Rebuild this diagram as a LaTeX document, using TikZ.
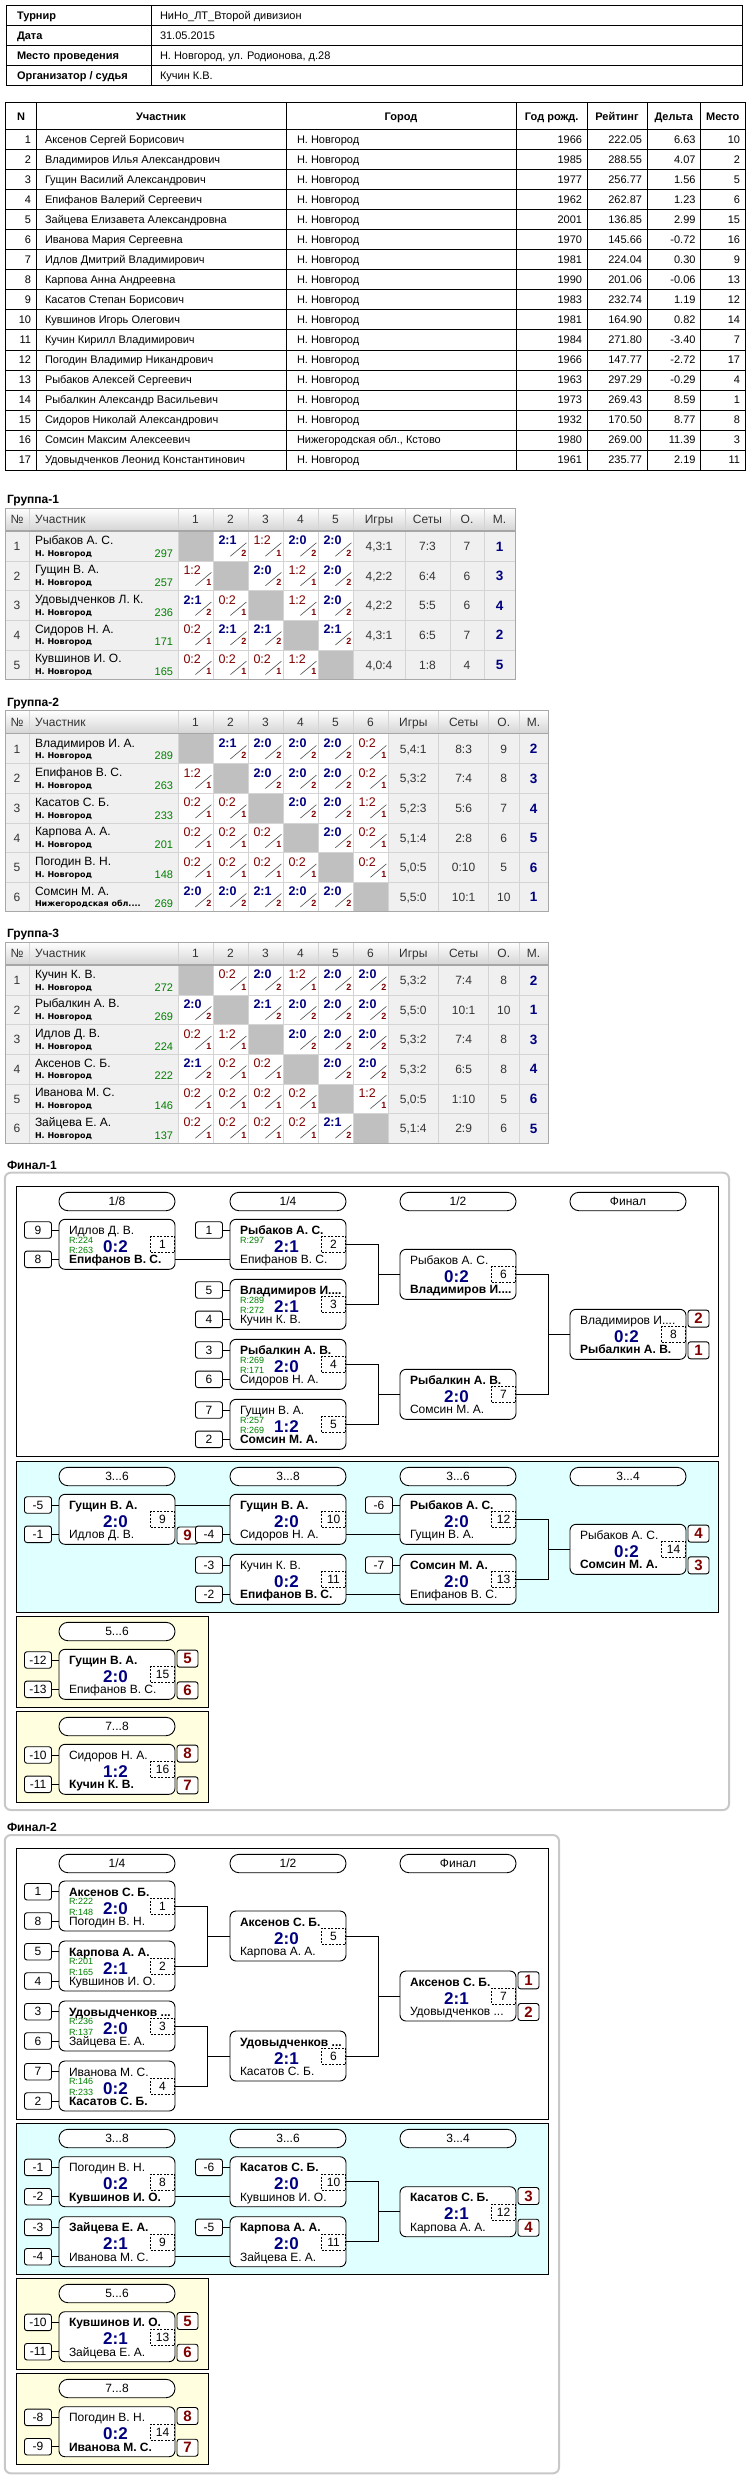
\documentclass[tikz,border=0pt]{standalone}
\usepackage{fontspec}
\setmainfont{Liberation Sans}
\newfontfamily\dvb{DejaVu Sans}
\usetikzlibrary{calc}
\definecolor{navy}{HTML}{000080}
\definecolor{dred}{HTML}{800000}
\definecolor{rgrn}{HTML}{008000}
\definecolor{cyanbg}{HTML}{E0FFFF}
\definecolor{yelbg}{HTML}{FFFFE0}
\definecolor{cellbg}{HTML}{F0F0F0}
\definecolor{diagbg}{HTML}{C0C0C0}
\definecolor{gridc}{HTML}{D4D4D4}
\definecolor{txtg}{HTML}{333333}
\definecolor{hdrbot}{HTML}{D6D6D6}
\definecolor{panelb}{HTML}{C8C8C8}
\definecolor{gborder}{HTML}{A8A8A8}
\newcommand\fs[1]{\fontsize{#1}{#1}\selectfont}
\tikzset{
  tx/.style={inner sep=0pt, outer sep=0pt, text depth=0pt, text height=0.716*#1pt, font=\fs{#1}},
  txb/.style={inner sep=0pt, outer sep=0pt, text depth=0pt, text height=0.716*#1pt, font=\fs{#1}\bfseries},
  city/.style={inner sep=0pt, outer sep=0pt, text depth=0pt, text height=5.8pt, font=\dvb\fs{8}\bfseries},
  gl/.style={draw=gridc, line width=0.8pt},
  slash/.style={draw=black!70, line width=0.6pt},
  mbox/.style={draw, line width=0.9pt, rounded corners=6pt, minimum width=116pt, minimum height=50pt, inner sep=0pt, fill=white},
  pill/.style={draw, line width=0.9pt, rounded corners=9pt, minimum width=116pt, minimum height=18.4pt, inner sep=0pt, fill=white, font=\fs{12}},
  seedb/.style={draw, line width=0.9pt, rounded corners=2.5pt, minimum width=27pt, minimum height=16.5pt, inner sep=0pt, fill=white, font=\fs{12}},
  placeb/.style={draw, line width=0.9pt, rounded corners=2.5pt, minimum width=21pt, minimum height=17pt, inner sep=0pt, fill=white, font=\fs{15}\bfseries, text=dred},
  numb/.style={draw, line width=0.8pt, dash pattern=on 2pt off 1.5pt, minimum width=24pt, minimum height=16pt, inner sep=0pt, font=\fs{12}},
  conn/.style={line width=0.9pt},
  sect/.style={draw, line width=1pt},
  tline/.style={line width=1pt},
}
% ---------- main table row
\newcommand\mrow[7]{%
  \pgfmathsetmacro\yy{140+20*(#1-1)}%
  \node[tx=11,anchor=east] (r#1n) at (31,\yy) {#1};
  \node[tx=11,anchor=west] (r#1a) at (45,\yy) {#2};
  \node[tx=11,anchor=west] (r#1c) at (297,\yy) {#3};
  \node[tx=11,anchor=east] (r#1y) at (582,\yy) {#4};
  \node[tx=11,anchor=east] (r#1r) at (642,\yy) {#5};
  \node[tx=11,anchor=east] (r#1d) at (695.5,\yy) {#6};
  \node[tx=11,anchor=east] (r#1p) at (740,\yy) {#7};
}
% ---------- group tables
\newcount\cc
\newcommand\cellpos{\global\advance\cc by 1\relax\pgfmathsetmacro\cl{178+35*(\the\cc-1)}}
\newcommand\XX{\cellpos\fill[diagbg] (\cl,\ry) rectangle ++(35,\rH);}
\newcommand\gsc[3]{%
  \fill[white] (\cl,\ry) rectangle ++(35,\rH);
  \node[#1,anchor=west] (\gid r\ri c\the\cc) at (\cl+5.5,\ry+9) {#2};
  \draw[slash] (\cl+17.4,\ry+24.7) -- (\cl+33.4,\ry+11.3);
  \node[txb=9,text=dred,anchor=east] (\gid r\ri c\the\cc s) at (\cl+33.4,\ry+21.3) {#3};}
\newcommand\WW[1]{\cellpos\gsc{txb=12.5,text=navy}{#1}{2}}
\newcommand\LL[1]{\cellpos\gsc{tx=12.5,text=dred}{#1}{1}}
\newcommand\gframe[9]{%
  \def\gid{#1}\def\ng{#4}\pgfmathsetmacro\cI{178+35*#4}\def\cS{#5}\def\cO{#6}\def\cM{#7}\def\cE{#8}\def\nr{#9}%
  \pgfmathsetmacro\hT{#3+9}\pgfmathsetmacro\rT{#3+32.5}\def\rH{29.6}%
  \pgfmathsetmacro\rB{\rT+\rH*#9}%
  \node[txb=12,anchor=west] (#1title) at (7,#3) {#2};
  \shade[top color=white,bottom color=hdrbot] (5,\hT) rectangle (\cE,\hT+22);
  \fill[cellbg] (5,\rT) rectangle (\cE,\rB);
  \node[tx=12,text=txtg] (#1hn) at (17,\hT+11) {№};
  \node[tx=12,text=txtg,anchor=west] (#1hu) at (35,\hT+11) {Участник};
  \foreach \k in {1,...,#4} {\node[tx=12,text=txtg] (#1h\k) at (160.5+35*\k,\hT+11) {\k};}
  \node[tx=12,text=txtg] (#1hg) at ({(\cI+\cS)/2},\hT+11) {Игры};
  \node[tx=12,text=txtg] (#1hs) at ({(\cS+\cO)/2},\hT+11) {Сеты};
  \node[tx=12,text=txtg] (#1ho) at ({(\cO+\cM)/2},\hT+11) {О.};
  \node[tx=12,text=txtg] (#1hm) at ({(\cM+\cE)/2},\hT+11) {М.};
}
\newcommand\grow[9]{%
  \pgfmathsetmacro\ry{\rT+\rH*(#1-1)}%
  \def\ri{#1}\global\cc=0\relax
  #5%
  \node[tx=12,text=txtg] (\gid r#1n) at (17,\ry+\rH/2) {#1};
  \node[tx=12,anchor=west] (\gid r#1a) at (35,\ry+8.5) {#2};
  \node[city,anchor=west] (\gid r#1b) at (35,\ry+21.7) {#3};
  \node[tx=11,text=rgrn,anchor=east] (\gid r#1c) at (173,\ry+21.7) {#4};
  \node[tx=12,text=txtg] (\gid r#1g) at ({(\cI+\cS)/2},\ry+\rH/2) {#6};
  \node[tx=12,text=txtg] (\gid r#1t) at ({(\cS+\cO)/2},\ry+\rH/2) {#7};
  \node[tx=12,text=txtg] (\gid r#1o) at ({(\cO+\cM)/2},\ry+\rH/2) {#8};
  \node[txb=13.5,text=navy] (\gid r#1m) at ({(\cM+\cE)/2},\ry+\rH/2) {#9};
}
\newcommand\ggrid{%
  \foreach \xx in {29,178,\cS,\cO,\cM} {\draw[gl] (\xx,\hT) -- (\xx,\rB);}
  \foreach \k in {1,...,\ng} {\draw[gl] ({178+35*\k},\hT) -- ({178+35*\k},\rB);}
  \pgfmathtruncatemacro\nrm{\nr-1}%
  \foreach \k in {1,...,\nrm} {\draw[gl] (5,\rT+\rH*\k) -- (\cE,\rT+\rH*\k);}
  \draw[draw=black!35,line width=1.5pt] (5,\hT+22.8) -- (\cE,\hT+22.8);
  \draw[draw=gborder,line width=0.8pt] (5,\hT) rectangle (\cE,\rB);
}
% ---------- brackets
\newcommand\match[7]{%
  \node[mbox] (#1) at (#2+58,#3+25) {};
  \node[tx=12,anchor=west] (#1t) at (#2+10,#3+10.7) {#4};
  \node[tx=12,anchor=west] (#1b) at (#2+10,#3+40) {#5};
  \node[txb=17,text=navy] (#1s) at (#2+56.5,#3+27) {#6};
  \node[numb] (#1n) at (#2+103.5,#3+25.3) {#7};
  \coordinate (#1tl) at (#2,#3+10.7);
  \coordinate (#1bl) at (#2,#3+40);
  \coordinate (#1tr) at (#2+116,#3+10.7);
  \coordinate (#1br) at (#2+116,#3+40);
}
\newcommand\rat[5]{%
  \node[tx=9,text=rgrn,anchor=west] (#1ra) at (#2+10,#3+20.7) {#4};
  \node[tx=9,text=rgrn,anchor=west] (#1rb) at (#2+10,#3+31.4) {#5};}
\newcommand\rata[4]{%
  \node[tx=9,text=rgrn,anchor=west] (#1ra) at (#2+10,#3+20.7) {#4};}
\newcommand\seed[3]{\node[seedb] (#1) at ($(#2)+(-21,0)$) {#3}; \draw[conn] (#1) -- (#2);}
\newcommand\place[4]{\node[placeb] (#1) at (#2,#3) {#4};}
\newcommand\pill[4]{\node[pill] (#1) at (#2+58,#3+9.2) {#4};}

\begin{document}
\begin{tikzpicture}[x=1pt,y=-1pt]
\fill[white] (0,0) rectangle (750,2480);
\useasboundingbox (0,0) rectangle (750,2480);

% ===== header table
\draw[tline] (6,6) rectangle (742,86);
\foreach \yy in {26,46,66} {\draw[tline] (6,\yy) -- (742,\yy);}
\draw[tline] (151,6) -- (151,86);
\node[txb=11,anchor=west] (h1a) at (17,16) {Турнир};
\node[tx=11,anchor=west] (h1b) at (160,16) {НиНо\_ЛТ\_Второй дивизион};
\node[txb=11,anchor=west] (h2a) at (17,36) {Дата};
\node[tx=11,anchor=west] (h2b) at (160,36) {31.05.2015};
\node[txb=11,anchor=west] (h3a) at (17,56) {Место проведения};
\node[tx=11,anchor=west] (h3b) at (160,56) {Н. Новгород, ул. Родионова, д.28};
\node[txb=11,anchor=west] (h4a) at (17,76) {Организатор / судья};
\node[tx=11,anchor=west] (h4b) at (160,76) {Кучин К.В.};

% ===== main table
\draw[tline] (5.7,103) rectangle (745,470);
\foreach \xx in {36,286,516.5,587,647,700.5} {\draw[tline] (\xx,103) -- (\xx,470);}
\foreach \k in {0,...,16} {\draw[tline] (5.7,130+20*\k) -- (745,130+20*\k);}
\node[txb=11] (th1) at (21,116.5) {N};
\node[txb=11] (th2) at (161,116.5) {Участник};
\node[txb=11] (th3) at (401,116.5) {Город};
\node[txb=11] (th4) at (551.7,116.5) {Год рожд.};
\node[txb=11] (th5) at (617,116.5) {Рейтинг};
\node[txb=11] (th6) at (673.7,116.5) {Дельта};
\node[txb=11] (th7) at (722.7,116.5) {Место};
\mrow{1}{Аксенов Сергей Борисович}{Н. Новгород}{1966}{222.05}{6.63}{10}
\mrow{2}{Владимиров Илья Александрович}{Н. Новгород}{1985}{288.55}{4.07}{2}
\mrow{3}{Гущин Василий Александрович}{Н. Новгород}{1977}{256.77}{1.56}{5}
\mrow{4}{Епифанов Валерий Сергеевич}{Н. Новгород}{1962}{262.87}{1.23}{6}
\mrow{5}{Зайцева Елизавета Александровна}{Н. Новгород}{2001}{136.85}{2.99}{15}
\mrow{6}{Иванова Мария Сергеевна}{Н. Новгород}{1970}{145.66}{-0.72}{16}
\mrow{7}{Идлов Дмитрий Владимирович}{Н. Новгород}{1981}{224.04}{0.30}{9}
\mrow{8}{Карпова Анна Андреевна}{Н. Новгород}{1990}{201.06}{-0.06}{13}
\mrow{9}{Касатов Степан Борисович}{Н. Новгород}{1983}{232.74}{1.19}{12}
\mrow{10}{Кувшинов Игорь Олегович}{Н. Новгород}{1981}{164.90}{0.82}{14}
\mrow{11}{Кучин Кирилл Владимирович}{Н. Новгород}{1984}{271.80}{-3.40}{7}
\mrow{12}{Погодин Владимир Никандрович}{Н. Новгород}{1966}{147.77}{-2.72}{17}
\mrow{13}{Рыбаков Алексей Сергеевич}{Н. Новгород}{1963}{297.29}{-0.29}{4}
\mrow{14}{Рыбалкин Александр Васильевич}{Н. Новгород}{1973}{269.43}{8.59}{1}
\mrow{15}{Сидоров Николай Александрович}{Н. Новгород}{1932}{170.50}{8.77}{8}
\mrow{16}{Сомсин Максим Алексеевич}{Нижегородская обл., Кстово}{1980}{269.00}{11.39}{3}
\mrow{17}{Удовыдченков Леонид Константинович}{Н. Новгород}{1961}{235.77}{2.19}{11}

% ===== Group 1
\gframe{ga}{Группа-1}{499}{5}{405}{450}{484}{515}{5}
\grow{1}{Рыбаков А. С.}{Н. Новгород}{297}{\XX\WW{2:1}\LL{1:2}\WW{2:0}\WW{2:0}}{4,3:1}{7:3}{7}{1}
\grow{2}{Гущин В. А.}{Н. Новгород}{257}{\LL{1:2}\XX\WW{2:0}\LL{1:2}\WW{2:0}}{4,2:2}{6:4}{6}{3}
\grow{3}{Удовыдченков Л. К.}{Н. Новгород}{236}{\WW{2:1}\LL{0:2}\XX\LL{1:2}\WW{2:0}}{4,2:2}{5:5}{6}{4}
\grow{4}{Сидоров Н. А.}{Н. Новгород}{171}{\LL{0:2}\WW{2:1}\WW{2:1}\XX\WW{2:1}}{4,3:1}{6:5}{7}{2}
\grow{5}{Кувшинов И. О.}{Н. Новгород}{165}{\LL{0:2}\LL{0:2}\LL{0:2}\LL{1:2}\XX}{4,0:4}{1:8}{4}{5}
\ggrid

% ===== Group 2
\gframe{gb}{Группа-2}{701.7}{6}{438.6}{488.6}{519}{548}{6}
\grow{1}{Владимиров И. А.}{Н. Новгород}{289}{\XX\WW{2:1}\WW{2:0}\WW{2:0}\WW{2:0}\LL{0:2}}{5,4:1}{8:3}{9}{2}
\grow{2}{Епифанов В. С.}{Н. Новгород}{263}{\LL{1:2}\XX\WW{2:0}\WW{2:0}\WW{2:0}\LL{0:2}}{5,3:2}{7:4}{8}{3}
\grow{3}{Касатов С. Б.}{Н. Новгород}{233}{\LL{0:2}\LL{0:2}\XX\WW{2:0}\WW{2:0}\LL{1:2}}{5,2:3}{5:6}{7}{4}
\grow{4}{Карпова А. А.}{Н. Новгород}{201}{\LL{0:2}\LL{0:2}\LL{0:2}\XX\WW{2:0}\LL{0:2}}{5,1:4}{2:8}{6}{5}
\grow{5}{Погодин В. Н.}{Н. Новгород}{148}{\LL{0:2}\LL{0:2}\LL{0:2}\LL{0:2}\XX\LL{0:2}}{5,0:5}{0:10}{5}{6}
\grow{6}{Сомсин М. А.}{Нижегородская обл....}{269}{\WW{2:0}\WW{2:0}\WW{2:1}\WW{2:0}\WW{2:0}\XX}{5,5:0}{10:1}{10}{1}
\ggrid

% ===== Group 3
\gframe{gc}{Группа-3}{933}{6}{438.6}{488.6}{519}{548}{6}
\grow{1}{Кучин К. В.}{Н. Новгород}{272}{\XX\LL{0:2}\WW{2:0}\LL{1:2}\WW{2:0}\WW{2:0}}{5,3:2}{7:4}{8}{2}
\grow{2}{Рыбалкин А. В.}{Н. Новгород}{269}{\WW{2:0}\XX\WW{2:1}\WW{2:0}\WW{2:0}\WW{2:0}}{5,5:0}{10:1}{10}{1}
\grow{3}{Идлов Д. В.}{Н. Новгород}{224}{\LL{0:2}\LL{1:2}\XX\WW{2:0}\WW{2:0}\WW{2:0}}{5,3:2}{7:4}{8}{3}
\grow{4}{Аксенов С. Б.}{Н. Новгород}{222}{\WW{2:1}\LL{0:2}\LL{0:2}\XX\WW{2:0}\WW{2:0}}{5,3:2}{6:5}{8}{4}
\grow{5}{Иванова М. С.}{Н. Новгород}{146}{\LL{0:2}\LL{0:2}\LL{0:2}\LL{0:2}\XX\LL{1:2}}{5,0:5}{1:10}{5}{6}
\grow{6}{Зайцева Е. А.}{Н. Новгород}{137}{\LL{0:2}\LL{0:2}\LL{0:2}\LL{0:2}\WW{2:1}\XX}{5,1:4}{2:9}{6}{5}
\ggrid

% ===== Final-1
\node[txb=12,anchor=west] (f1title) at (7,1165) {Финал-1};
\draw[panelb,line width=2pt,rounded corners=6pt,fill=white] (4.8,1172.7) rectangle (729,1810);
\draw[sect,fill=white] (16.3,1186.7) rectangle (718.7,1456.7);
\draw[sect,fill=cyanbg] (16.3,1461.7) rectangle (718.7,1612.3);
\draw[sect,fill=yelbg] (16.3,1616) rectangle (208,1707.3);
\draw[sect,fill=yelbg] (16.3,1711) rectangle (208,1802.3);
\pill{aP1}{59}{1192.3}{1/8}
\pill{aP2}{230}{1192.3}{1/4}
\pill{aP3}{400}{1192.3}{1/2}
\pill{aP4}{570}{1192.3}{Финал}
\match{a1}{59}{1219.3}{Идлов Д. В.}{\textbf{Епифанов В. С.}}{0:2}{1}
\rat{a1}{59}{1219.3}{R:224}{R:263}
\match{a2}{230}{1219.3}{\textbf{Рыбаков А. С.}}{Епифанов В. С.}{2:1}{2}
\rata{a2}{230}{1219.3}{R:297}
\match{a3}{230}{1279.3}{\textbf{Владимиров И....}}{Кучин К. В.}{2:1}{3}
\rat{a3}{230}{1279.3}{R:289}{R:272}
\match{a4}{230}{1339.3}{\textbf{Рыбалкин А. В.}}{Сидоров Н. А.}{2:0}{4}
\rat{a4}{230}{1339.3}{R:269}{R:171}
\match{a5}{230}{1399.3}{Гущин В. А.}{\textbf{Сомсин М. А.}}{1:2}{5}
\rat{a5}{230}{1399.3}{R:257}{R:269}
\match{a6}{400}{1249.3}{Рыбаков А. С.}{\textbf{Владимиров И....}}{0:2}{6}
\match{a7}{400}{1369.3}{\textbf{Рыбалкин А. В.}}{Сомсин М. А.}{2:0}{7}
\match{a8}{570}{1309.3}{Владимиров И....}{\textbf{Рыбалкин А. В.}}{0:2}{8}
\seed{a1sa}{a1tl}{9}\seed{a1sb}{a1bl}{8}
\seed{a2sa}{a2tl}{1}
\seed{a3sa}{a3tl}{5}\seed{a3sb}{a3bl}{4}
\seed{a4sa}{a4tl}{3}\seed{a4sb}{a4bl}{6}
\seed{a5sa}{a5tl}{7}\seed{a5sb}{a5bl}{2}
\draw[conn] (a1br) -- (a2bl);
\draw[conn] (a2.east) -- ++(32,0) |- (a6.west);
\draw[conn] (a3.east) -- ++(32,0) |- (a6.west);
\draw[conn] (a4.east) -- ++(32,0) |- (a7.west);
\draw[conn] (a5.east) -- ++(32,0) |- (a7.west);
\draw[conn] (a6.east) -- ++(32,0) |- (a8.west);
\draw[conn] (a7.east) -- ++(32,0) |- (a8.west);
\place{a8pa}{698.5}{1318.6}{2}
\place{a8pb}{698.5}{1350.3}{1}
% 3..6
\pill{aP5}{59}{1467.3}{3...6}
\pill{aP6}{230}{1467.3}{3...8}
\pill{aP7}{400}{1467.3}{3...6}
\pill{aP8}{570}{1467.3}{3...4}
\match{a9}{59}{1494.3}{\textbf{Гущин В. А.}}{Идлов Д. В.}{2:0}{9}
\match{a10}{230}{1494.3}{\textbf{Гущин В. А.}}{Сидоров Н. А.}{2:0}{10}
\match{a11}{230}{1554.3}{Кучин К. В.}{\textbf{Епифанов В. С.}}{0:2}{11}
\match{a12}{400}{1494.3}{\textbf{Рыбаков А. С.}}{Гущин В. А.}{2:0}{12}
\match{a13}{400}{1554.3}{\textbf{Сомсин М. А.}}{Епифанов В. С.}{2:0}{13}
\match{a14}{570}{1524.3}{Рыбаков А. С.}{\textbf{Сомсин М. А.}}{0:2}{14}
\place{a9p}{187.5}{1535.5}{9}
\seed{a9sa}{a9tl}{-5}\seed{a9sb}{a9bl}{-1}
\seed{a10sb}{a10bl}{-4}
\seed{a11sa}{a11tl}{-3}\seed{a11sb}{a11bl}{-2}
\seed{a12sa}{a12tl}{-6}
\seed{a13sa}{a13tl}{-7}
\draw[conn] (a9tr) -- (a10tl);
\draw[conn] (a10br) -- (a12bl);
\draw[conn] (a11br) -- (a13bl);
\draw[conn] (a12.east) -- ++(32,0) |- (a14.west);
\draw[conn] (a13.east) -- ++(32,0) |- (a14.west);
\place{a14pa}{698.5}{1533.6}{4}
\place{a14pb}{698.5}{1565.3}{3}
% 5..6
\pill{aP9}{59}{1622.3}{5...6}
\match{a15}{59}{1649.3}{\textbf{Гущин В. А.}}{Епифанов В. С.}{2:0}{15}
\seed{a15sa}{a15tl}{-12}\seed{a15sb}{a15bl}{-13}
\place{a15pa}{187.5}{1658.6}{5}
\place{a15pb}{187.5}{1690.3}{6}
% 7..8
\pill{aP10}{59}{1717.3}{7...8}
\match{a16}{59}{1744.3}{Сидоров Н. А.}{\textbf{Кучин К. В.}}{1:2}{16}
\seed{a16sa}{a16tl}{-10}\seed{a16sb}{a16bl}{-11}
\place{a16pa}{187.5}{1753.6}{8}
\place{a16pb}{187.5}{1785.3}{7}

% ===== Final-2
\node[txb=12,anchor=west] (f2title) at (7,1826.7) {Финал-2};
\draw[panelb,line width=2pt,rounded corners=6pt,fill=white] (4.8,1835) rectangle (559,2473.3);
\draw[sect,fill=white] (16.3,1848.3) rectangle (548.6,2119);
\draw[sect,fill=cyanbg] (16.3,2123.3) rectangle (548.6,2274.3);
\draw[sect,fill=yelbg] (16.3,2278.3) rectangle (208,2369.3);
\draw[sect,fill=yelbg] (16.3,2373.3) rectangle (208,2464.3);
\pill{bP1}{59}{1854.3}{1/4}
\pill{bP2}{230}{1854.3}{1/2}
\pill{bP3}{400}{1854.3}{Финал}
\match{b1}{59}{1881}{\textbf{Аксенов С. Б.}}{Погодин В. Н.}{2:0}{1}
\rat{b1}{59}{1881}{R:222}{R:148}
\match{b2}{59}{1941}{\textbf{Карпова А. А.}}{Кувшинов И. О.}{2:1}{2}
\rat{b2}{59}{1941}{R:201}{R:165}
\match{b3}{59}{2001}{\textbf{Удовыдченков ...}}{Зайцева Е. А.}{2:0}{3}
\rat{b3}{59}{2001}{R:236}{R:137}
\match{b4}{59}{2061}{Иванова М. С.}{\textbf{Касатов С. Б.}}{0:2}{4}
\rat{b4}{59}{2061}{R:146}{R:233}
\match{b5}{230}{1911}{\textbf{Аксенов С. Б.}}{Карпова А. А.}{2:0}{5}
\match{b6}{230}{2031}{\textbf{Удовыдченков ...}}{Касатов С. Б.}{2:1}{6}
\match{b7}{400}{1971}{\textbf{Аксенов С. Б.}}{Удовыдченков ...}{2:1}{7}
\seed{b1sa}{b1tl}{1}\seed{b1sb}{b1bl}{8}
\seed{b2sa}{b2tl}{5}\seed{b2sb}{b2bl}{4}
\seed{b3sa}{b3tl}{3}\seed{b3sb}{b3bl}{6}
\seed{b4sa}{b4tl}{7}\seed{b4sb}{b4bl}{2}
\draw[conn] (b1.east) -- ++(32,0) |- (b5.west);
\draw[conn] (b2.east) -- ++(32,0) |- (b5.west);
\draw[conn] (b3.east) -- ++(32,0) |- (b6.west);
\draw[conn] (b4.east) -- ++(32,0) |- (b6.west);
\draw[conn] (b5.east) -- ++(32,0) |- (b7.west);
\draw[conn] (b6.east) -- ++(32,0) |- (b7.west);
\place{b7pa}{528.5}{1980.3}{1}
\place{b7pb}{528.5}{2012}{2}
% 3..8
\pill{bP4}{59}{2129.3}{3...8}
\pill{bP5}{230}{2129.3}{3...6}
\pill{bP6}{400}{2129.3}{3...4}
\match{b8}{59}{2156.7}{Погодин В. Н.}{\textbf{Кувшинов И. О.}}{0:2}{8}
\match{b9}{59}{2216.7}{\textbf{Зайцева Е. А.}}{Иванова М. С.}{2:1}{9}
\match{b10}{230}{2156.7}{\textbf{Касатов С. Б.}}{Кувшинов И. О.}{2:0}{10}
\match{b11}{230}{2216.7}{\textbf{Карпова А. А.}}{Зайцева Е. А.}{2:0}{11}
\match{b12}{400}{2186.7}{\textbf{Касатов С. Б.}}{Карпова А. А.}{2:1}{12}
\seed{b8sa}{b8tl}{-1}\seed{b8sb}{b8bl}{-2}
\seed{b9sa}{b9tl}{-3}\seed{b9sb}{b9bl}{-4}
\seed{b10sa}{b10tl}{-6}
\seed{b11sa}{b11tl}{-5}
\draw[conn] (b8br) -- (b10bl);
\draw[conn] (b9br) -- (b11bl);
\draw[conn] (b10.east) -- ++(32,0) |- (b12.west);
\draw[conn] (b11.east) -- ++(32,0) |- (b12.west);
\place{b12pa}{528.5}{2196}{3}
\place{b12pb}{528.5}{2227.7}{4}
% 5..6
\pill{bP7}{59}{2284.3}{5...6}
\match{b13}{59}{2311.7}{\textbf{Кувшинов И. О.}}{Зайцева Е. А.}{2:1}{13}
\seed{b13sa}{b13tl}{-10}\seed{b13sb}{b13bl}{-11}
\place{b13pa}{187.5}{2321}{5}
\place{b13pb}{187.5}{2352.7}{6}
% 7..8
\pill{bP8}{59}{2379.3}{7...8}
\match{b14}{59}{2406.7}{Погодин В. Н.}{\textbf{Иванова М. С.}}{0:2}{14}
\seed{b14sa}{b14tl}{-8}\seed{b14sb}{b14bl}{-9}
\place{b14pa}{187.5}{2416}{8}
\place{b14pb}{187.5}{2447.7}{7}
\end{tikzpicture}
\end{document}
